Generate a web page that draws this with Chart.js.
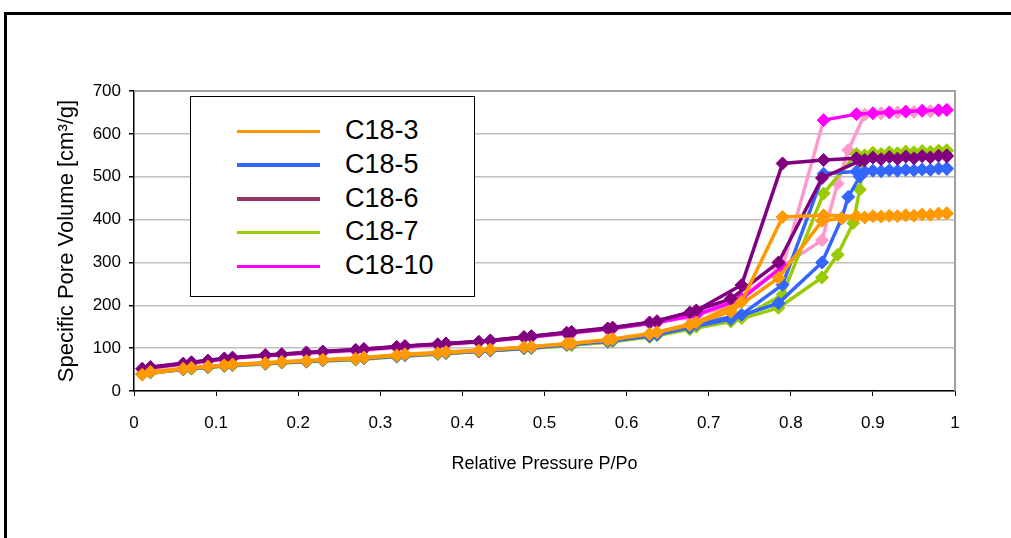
<!DOCTYPE html>
<html>
<head>
<meta charset="utf-8">
<script src="https://cdn.jsdelivr.net/npm/chart.js@4.4.1/dist/chart.umd.min.js"></script>
<style>
  html, body { margin: 0; padding: 0; background: #fff; overflow: hidden; }
  #wrap { position: relative; width: 1011px; height: 538px; }
  #c { position: absolute; left: 0; top: 0; }
  #frame { position: absolute; left: 4px; top: 12px; width: 1100px; height: 600px;
           border: 3px solid #000; box-sizing: border-box; pointer-events: none; }
  #legend { position: absolute; left: 190px; top: 96px; width: 285px; height: 201px;
            box-sizing: border-box; border: 1.5px solid #000; background: #fff;
            padding-top: 17px; font-family: "Liberation Sans", Arial, sans-serif; font-size: 27px; }
  .row { height: 33.75px; position: relative; }
  .sw { position: absolute; left: 46px; top: 15.5px; width: 83px; height: 3.5px; }
  .lab { position: absolute; left: 154px; top: 0; line-height: 33.75px; color: #000; }
</style>
</head>
<body>
<div id="wrap">
  <canvas id="c" width="1011" height="538"></canvas>
  <div id="legend"></div>
  <div id="frame"></div>
</div>
<script>
// relative pressure of the adsorption and desorption readings
const adsP = [0.01, 0.06, 0.09, 0.11, 0.16, 0.21, 0.27, 0.32, 0.37, 0.42, 0.475, 0.527, 0.577, 0.628, 0.677,
              0.727, 0.785, 0.838, 0.857, 0.862, 0.87, 0.876, 0.884, 0.89, 0.91, 0.93, 0.95, 0.97, 0.99];
const desP = [0.99, 0.98, 0.96, 0.94, 0.92, 0.90, 0.88, 0.84, 0.79, 0.74, 0.685, 0.637, 0.583, 0.533,
              0.484, 0.434, 0.38, 0.33, 0.28, 0.23, 0.18, 0.12, 0.07, 0.02];

// pore volume, cm3/g (null = no reading at that pressure)
const c18_3_ads = [38, 52, 57, 60, 65, 70, 75, 83, 88, 94, 102, 110, 119, 133, 154,
                   185, 264, 397, null, 403, null, null, null, 405, 407, 408, 409, 411, 414];
const c18_3_des = [415, 414, 412, 410, 409, 408, 408, 410, 406, 208, 160, 137, 121, 111, 103, 97, 91, 86, 78, 73, 68, 62, 54, 45];

const c18_5_ads = [39, 51, 56, 59, 64, 69, 74, 81, 87, 92, 100, 108, 116, 128, 148,
                   168, 205, 300, null, 403, 453, null, 500, 512, 513, 514, 515, 516, 518];
const c18_5_des = [520, 519, 517, 516, 515, 514, 512, 507, 248, 178, 156, 132, 118, 109, 101, 95, 89, 84, 77, 72, 67, 61, 53, 44];

const c18_6_ads = [52, 64, 71, 76, 84, 90, 96, 103, 109, 115, 126, 136, 146, 160, 183,
                   215, 300, 497, null, null, null, null, 537, 539, 541, 542, 543, 545, 547];
const c18_6_des = [550, 549, 548, 547, 546, 545, 543, 539, 531, 247, 188, 163, 148, 138, 128, 118, 111, 105, 98, 92, 86, 78, 67, 56];

const c18_7_ads = [40, 50, 55, 58, 63, 68, 73, 80, 86, 92, 99, 107, 114, 126, 144,
                   162, 194, 265, 318, null, null, 392, 470, 550, 553, 555, 557, 558, 560];
const c18_7_des = [562, 561, 560, 559, 557, 556, 553, 461, 225, 170, 150, 130, 116, 107, 100, 94, 88, 83, 76, 71, 66, 60, 52, 43];

const c18_10_ads = [50, 62, 69, 74, 82, 88, 94, 101, 107, 114, 124, 134, 144, 158, 172,
                    200, 285, 352, 484, null, 562, null, null, 645, 648, 650, 651, 653, 655];
const c18_10_des = [656, 655, 654, 652, 650, 648, 646, 632, 290, 215, 178, 160, 146, 136, 126, 117, 110, 104, 97, 91, 85, 77, 66, 55];

const seriesNames = ["C18-3", "C18-5", "C18-6", "C18-7", "C18-10"];
const legendColors = ["#FF9900", "#3366FF", "#993366", "#99CC00", "#FF00FF"];
const PINK = "#FF99CC";

function pts(xs, ys) {
  return xs.map((x, i) => ({ x: x, y: ys[i] })).filter(p => p.y !== null);
}

function branch(label, xs, ys, color) {
  return {
    label: label,
    data: pts(xs, ys),
    borderColor: color,
    backgroundColor: color,
    pointBackgroundColor: color,
    pointBorderColor: color,
    borderWidth: 3.5,
    pointStyle: "rectRot",
    pointRadius: 6.5,
    pointBorderWidth: 1,
    tension: 0,
    fill: false
  };
}

// C18-10 desorption: the big drop is drawn in the light pink
const c18_10_desSet = branch("C18-10", desP, c18_10_des, "#FF00FF");
c18_10_desSet.segment = {
  borderColor: ctx => (ctx.p0.parsed.x > 0.8 && ctx.p1.parsed.x < 0.8 ? PINK : undefined)
};

// index 0 is drawn on top
const datasets = [
  branch("C18-3", adsP, c18_3_ads, "#FF9900"),
  branch("C18-3 des", desP, c18_3_des, "#FF9900"),
  branch("C18-6", adsP, c18_6_ads, "#800080"),
  branch("C18-6 des", desP, c18_6_des, "#800080"),
  branch("C18-5", adsP, c18_5_ads, "#3366FF"),
  branch("C18-5 des", desP, c18_5_des, "#3366FF"),
  branch("C18-7", adsP, c18_7_ads, "#99CC00"),
  branch("C18-7 des", desP, c18_7_des, "#99CC00"),
  c18_10_desSet,
  branch("C18-10 ads", adsP, c18_10_ads, PINK)
];

const plotEdge = {
  id: "plotEdge",
  beforeDatasetsDraw(chart) {
    const { ctx, chartArea: a } = chart;
    ctx.save();
    ctx.strokeStyle = "#a0a0a0";
    ctx.lineWidth = 2;
    ctx.beginPath();
    ctx.moveTo(a.left, a.top);
    ctx.lineTo(a.right, a.top);
    ctx.lineTo(a.right, a.bottom);
    ctx.stroke();
    ctx.restore();
  }
};

Chart.defaults.font.family = '"Liberation Sans", Arial, sans-serif';
Chart.defaults.color = "#000";

const myChart = new Chart(document.getElementById("c").getContext("2d"), {
  type: "line",
  data: { datasets: datasets },
  options: {
    responsive: false,
    animation: false,
    events: [],
    layout: { padding: { top: 91, right: 56, left: 0, bottom: 0 } },
    plugins: {
      legend: { display: false },
      tooltip: { enabled: false }
    },
    scales: {
      x: {
        type: "linear",
        min: 0,
        max: 1,
        afterFit: s => { s.height = 147; },
        ticks: {
          stepSize: 0.1,
          padding: 17,
          maxRotation: 0,
          font: { size: 17 },
          callback: v => String(+v.toFixed(1))
        },
        grid: { drawOnChartArea: false, tickColor: "#000", tickLength: 5 },
        border: { color: "#000", width: 1.5 },
        title: {
          display: true,
          text: "Relative Pressure P/Po",
          font: { size: 18 },
          padding: { top: 0, bottom: 63 }
        }
      },
      y: {
        min: 0,
        max: 700,
        afterFit: s => { s.width = 134; },
        ticks: { stepSize: 100, padding: 8, font: { size: 17 } },
        grid: { color: "#c0c0c0", lineWidth: 1.5, tickColor: "#000", tickLength: 5 },
        border: { color: "#000", width: 1.5 },
        title: {
          display: true,
          text: "Specific Pore Volume [cm³/g]",
          font: { size: 22 },
          padding: { top: 54, bottom: 0 }
        }
      }
    }
  },
  plugins: [plotEdge]
});

// legend box built from the series names
const legend = document.getElementById("legend");
seriesNames.forEach((name, i) => {
  const row = document.createElement("div");
  row.className = "row";
  row.innerHTML = '<div class="sw" style="background:' + legendColors[i] + '"></div><div class="lab">' + name + "</div>";
  legend.appendChild(row);
});
</script>
</body>
</html>
